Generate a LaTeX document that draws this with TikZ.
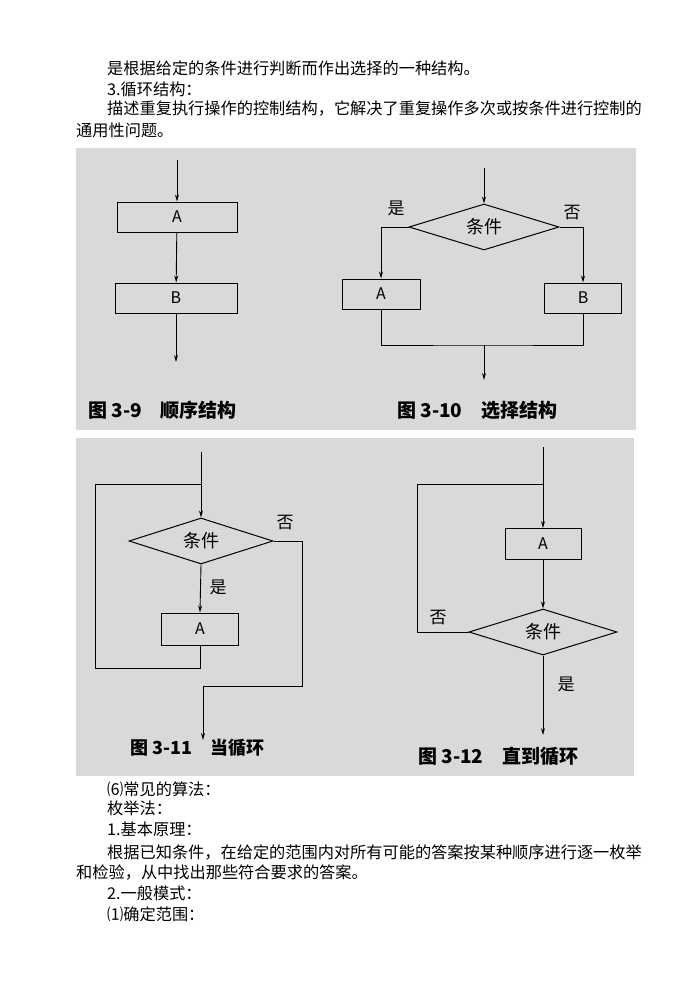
\documentclass[tikz,border=0pt]{standalone}
\usepackage{fontspec}
\setmainfont{Noto Sans CJK SC}
\usetikzlibrary{shapes.geometric,arrows.meta}
\definecolor{panel}{HTML}{D9D9D7}
\tikzset{
 body/.style={anchor=west,inner sep=0pt,font=\fontsize{16.2}{16}\selectfont},
 box/.style={draw,line width=1pt,minimum width=#1,minimum height=30pt,inner sep=0pt,font=\fontsize{16}{16}\selectfont},
 dia/.style={draw,diamond,aspect=3.2,line width=1pt,inner sep=0pt,font=\fontsize{18}{18}\selectfont},
 ln/.style={line width=0.9pt},
 ar/.style={line width=0.9pt,-{Stealth[length=7pt,width=4pt]}},
 lab/.style={font=\fontsize{17}{17}\selectfont,inner sep=0pt},
 captxt/.style={font=\fontsize{19}{19}\selectfont\bfseries,anchor=west,inner sep=0pt}
}
\begin{document}
\begin{tikzpicture}[x=1pt,y=-1pt]
\useasboundingbox[fill=white] (0,0) rectangle (695,983);
\node[body] (t1) at (107,68) {是根据给定的条件进行判断而作出选择的一种结构。};
\node[body] (t2) at (107,89) {3.循环结构：};
\node[body] (t3) at (107,109) {描述重复执行操作的控制结构，它解决了重复操作多次或按条件进行控制的};
\node[body] (t4) at (76,130) {通用性问题。};
% panels
\fill[panel] (76,148) rectangle (636,430);
\fill[panel] (76,438) rectangle (634,776);
% sequence
\coordinate (s0) at (177,160);
\node[box=120pt] (sa) at (177,217) {A};
\node[box=122pt] (sb) at (176,298) {B};
\coordinate (s1) at (176,362);
\draw[ar] (s0) -- (sa);
\draw[ar] (sa) -- (sb);
\draw[ar] (sb) -- (s1);
\node[captxt] (c1) at (88,410) {图 3-9\quad 顺序结构};
% selection
\coordinate (x0) at (484,168);
\node[dia,minimum width=150pt,minimum height=46pt] (xd) at (484,227) {条件};
\node[box=78pt] (xa) at (381,294) {A};
\node[box=77pt] (xb) at (583,298) {B};
\node[lab] (xy) at (396,208) {是};
\node[lab] (xn) at (572,213) {否};
\coordinate (x1) at (484,345);
\coordinate (x2) at (484,380);
\draw[ar] (x0) -- (xd.north);
\draw[ar] (xd.west) -| (xa.north);
\draw[ar] (xd.east) -| (xb.north);
\draw[ln] (xa.south) |- (x1) -| (xb.south);
\draw[ar] (x1) -- (x2);
\node[captxt] (c2) at (397,410) {图 3-10\quad 选择结构};
% while
\coordinate (w0) at (201,452);
\coordinate (wj) at (201,484);
\node[dia,minimum width=144pt,minimum height=46pt] (wd) at (201,541) {条件};
\node[box=77pt,minimum height=32pt] (wa) at (200,629) {A};
\node[lab] (wn) at (285,523) {否};
\node[lab] (wy) at (218,587) {是};
\coordinate (w1) at (302,686);
\coordinate (w2) at (203,686);
\coordinate (w3) at (203,740);
\coordinate (w4) at (200,668);
\coordinate (w5) at (95,668);
\draw[ln] (w0) -- (wj);
\draw[ar] (wj) -- (wd.north);
\draw[ar] (wd.south) -- (wa.north);
\draw[ln] (wa.south) -- (w4) -- (w5) |- (wj);
\draw[ln] (wd.east) -| (w1) -- (w2);
\draw[ar] (w2) -- (w3);
\node[captxt,font=\fontsize{18}{18}\selectfont\bfseries] (c3) at (130,748) {图 3-11\quad 当循环};
% until
\coordinate (u0) at (543,447);
\coordinate (uj) at (543,484);
\node[box=76pt,minimum height=31pt] (ua) at (543,544) {A};
\node[dia,minimum width=148pt,minimum height=46pt] (ud) at (543,632) {条件};
\node[lab] (un) at (438,618) {否};
\node[lab] (uy) at (566,684) {是};
\coordinate (u1) at (417,632);
\coordinate (u2) at (543,735);
\draw[ln] (u0) -- (uj);
\draw[ar] (uj) -- (ua.north);
\draw[ar] (ua.south) -- (ud.north);
\draw[ln] (ud.west) -- (u1) |- (uj);
\draw[ar] (ud.south) -- (u2);
\node[captxt] (c4) at (418,756) {图 3-12\quad 直到循环};
% bottom text
\node[body] (b1) at (107,789) {⑹常见的算法：};
\node[body] (b2) at (107,808) {枚举法：};
\node[body] (b3) at (107,829) {1.基本原理：};
\node[body] (b4) at (107,852) {根据已知条件，在给定的范围内对所有可能的答案按某种顺序进行逐一枚举};
\node[body] (b5) at (76,872) {和检验，从中找出那些符合要求的答案。};
\node[body] (b6) at (107,893) {2.一般模式：};
\node[body] (b7) at (107,914) {⑴确定范围：};
\end{tikzpicture}
\end{document}
